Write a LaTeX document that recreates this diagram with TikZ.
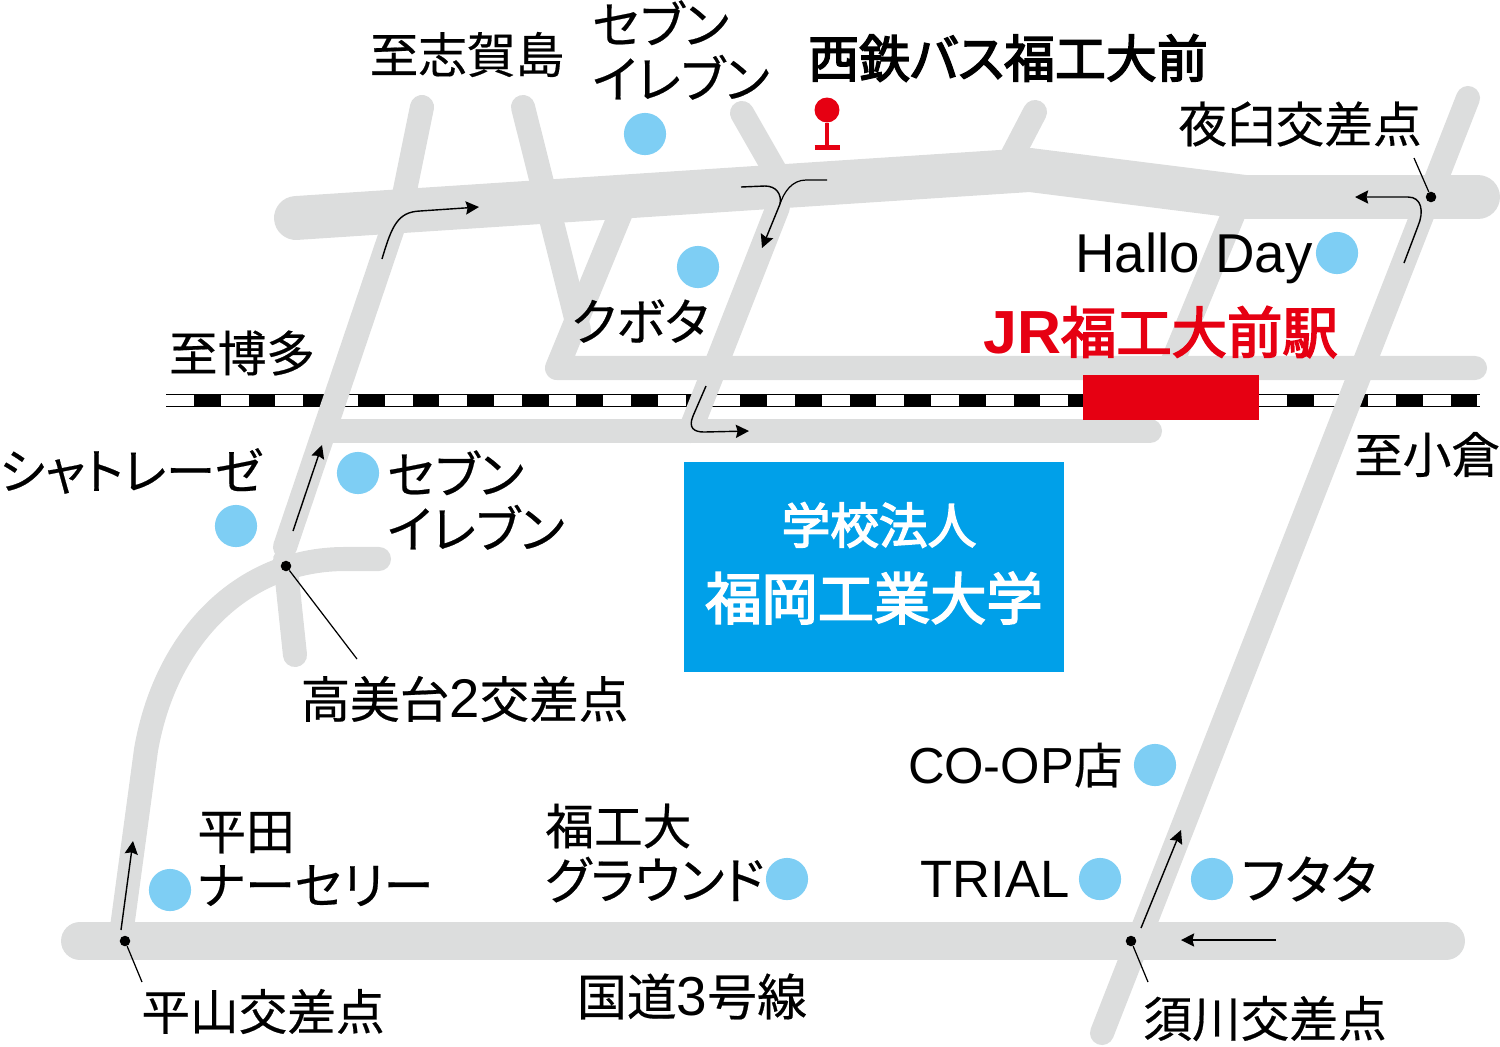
\documentclass[tikz,border=0pt]{standalone}
\usepackage{fontspec}
\setmainfont{Noto Sans CJK JP}[RawFeature=+palt,FakeBold=0.4]
\newfontfamily\heavy{Noto Sans CJK JP}[RawFeature=+palt,FakeBold=3]
\newfontfamily\lat{Liberation Sans}[Scale=1.1]
\usetikzlibrary{arrows.meta}
\definecolor{roadgray}{HTML}{DCDDDD}
\definecolor{shopblue}{HTML}{7ECEF4}
\definecolor{boxblue}{HTML}{00A0E9}
\definecolor{jrred}{HTML}{E60012}
\tikzset{
  bigroad/.style={draw=roadgray,line width=25pt,line cap=round,line join=round},
  midroad/.style={draw=roadgray,line width=21.6pt,line cap=round},
  road/.style={draw=roadgray,line width=13.7pt,line cap=round,line join=round},
  shop/.style={circle,fill=shopblue,minimum size=24pt,inner sep=0pt},
  cross/.style={circle,fill=black,minimum size=6pt,inner sep=0pt},
  maptext/.style={inner sep=0pt,align=left,font=\fontsize{27.7}{31}\selectfont},
  kanatext/.style={inner sep=0pt,align=left,font=\fontsize{28.6}{31}\selectfont},
  route/.style={draw=black,line width=0.8pt,-{Stealth[length=7.5pt,width=7.5pt,inset=1pt]}},
  leader/.style={draw=black,line width=0.7pt}
}
\begin{document}
\begin{tikzpicture}[x=0.02cm,y=-0.02cm]
    \useasboundingbox (0,0) rectangle (1500,1046);

    % railway
    \draw[line width=0.6pt] (166,394.5) -- (1480,394.5);
    \draw[line width=0.6pt] (166,406.5) -- (1480,406.5);
    \draw[line width=6.6pt,dash pattern=on 15.2pt off 15.9pt] (194,400.5) -- (1480,400.5);

    % roads
    \draw[road] (422,107) -- (404,195) -- (285,547);
    \draw[road] (285,560) -- (295,655);
    \draw[road] (379,559) -- (345,559) .. controls (240,559) and (165,640) .. (146,750) -- (121,935);
    \draw[road] (523,107) -- (579,330);
    \draw[road] (622,210) -- (557,368) -- (1475,368);
    \draw[road] (742,113) -- (778,176);
    \draw[road] (1035,112) -- (1010,160);
    \draw[road] (778,207) -- (690,431);
    \draw[road] (1233,215) -- (1165,380);
    \draw[road] (1468,98) -- (1102,1033);
    \draw[road] (330,431) -- (1150,431);
    \draw[bigroad] (296,218) -- (1030,170) -- (1245,197) -- (1478,197);
    \draw[midroad] (80,941) -- (1446,941);

    % station, campus, bus stop
    \fill[jrred] (1083,375) rectangle (1259,420);
    \node (campus) at (874,567) [fill=boxblue,minimum width=7.6cm,minimum height=4.2cm] {};
    \node (busstop) at (827,110) [circle,fill=jrred,minimum size=14.2pt,inner sep=0pt] {};
    \coordinate (busfoot) at (827,147);
    \draw[jrred,line width=2pt] (busstop) -- (busfoot);
    \draw[jrred,line width=2.4pt] (814.5,147.5) -- (840,147.5);

    % shops
    \node (seven1) at (645,134) [shop] {};
    \node (kubota) at (698,267) [shop] {};
    \node (hallo) at (1337,253) [shop] {};
    \node (seven2) at (358,473) [shop] {};
    \node (chateau) at (236,526) [shop] {};
    \node (coop) at (1155,765) [shop] {};
    \node (ground) at (787,879) [shop] {};
    \node (trial) at (1100,879) [shop] {};
    \node (futata) at (1212,879) [shop] {};
    \node (nursery) at (170,890) [shop] {};

    % crossings
    \node (yausu) at (1431,197) [cross] {};
    \node (takami) at (286,566) [cross] {};
    \node (hirayama) at (125,941) [cross] {};
    \node (sugawa) at (1131,941) [cross] {};
    \coordinate (yausuend) at (1414,158);
    \coordinate (takamiend) at (357,659);
    \coordinate (hirayamaend) at (142,982);
    \coordinate (sugawaend) at (1148,982);
    \draw[leader] (yausu) -- (yausuend);
    \draw[leader] (takami) -- (takamiend);
    \draw[leader] (hirayama) -- (hirayamaend);
    \draw[leader] (sugawa) -- (sugawaend);

    % route arrows
    \draw[route] (382,259) .. controls (392,225) and (398,212) .. (420,211) -- (479,207);
    \draw[route] (741,187) -- (765,186) .. controls (776,186) and (782,194) .. (780,204) -- (762,248);
    \draw[leader] (827,180) -- (806,180) .. controls (792,180) and (784,192) .. (780,204);
    \draw[route] (706,386) -- (693,416) .. controls (688,428) and (694,432) .. (704,432) -- (749,431);
    \draw[route] (1404,263) -- (1418,226) .. controls (1424,212) and (1422,197) .. (1408,197) -- (1355,197);
    \draw[route] (293,531) -- (322,445);
    \draw[route] (121,930) -- (133,841);
    \draw[route] (1141,928) -- (1181,830);
    \draw[route] (1276,940) -- (1181,940);

    % labels
    \node (shika) at (467,54.5) [maptext] {至志賀島};
    \node (sevenA) at (592,50) [kanatext,anchor=west] {セブン\\イレブン};
    \node (nishitetsu) at (1008,58) [maptext,font=\fontsize{29}{31}\selectfont\heavy] {西鉄バス福工大前};
    \node (yausutxt) at (1300,124) [maptext] {夜臼交差点};
    \node (hallotxt) at (1075,258) [maptext,anchor=west,font=\fontsize{28.3}{31}\selectfont] {\lat Hallo Day};
    \node (kubotatxt) at (640,321) [kanatext] {クボタ};
    \node (jr) at (1160.5,332) [maptext,font=\fontsize{31.5}{34}\selectfont\heavy,text=jrred] {{\lat\bfseries JR}福工大前駅};
    \node (hakata) at (242,353) [maptext] {至博多};
    \node (chateautxt) at (131,471) [maptext,font=\fontsize{28}{31}\selectfont] {シャトレーゼ};
    \node (sevenB) at (387,500) [kanatext,anchor=west] {セブン\\イレブン};
    \node (kokura) at (1427,454.5) [maptext] {至小倉};
    \node (gakko) at (879,525) [maptext,font=\fontsize{27.7}{31}\selectfont\heavy,text=white] {学校法人};
    \node (fit) at (874,598) [maptext,font=\fontsize{32}{34}\selectfont\heavy,text=white] {福岡工業大学};
    \node (takamitxt) at (464.5,699) [maptext,font=\fontsize{28.2}{31}\selectfont] {高美台{\lat 2}交差点};
    \node (cooptxt) at (1123,765) [maptext,anchor=east,font=\fontsize{26.2}{31}\selectfont] {{\lat CO-OP}{\fontsize{27.7}{31}\selectfont 店}};
    \node (nurserytxt) at (197,859) [kanatext,anchor=west] {{\fontsize{27.7}{31}\selectfont 平田}\\ナーセリー};
    \node (groundtxt) at (545,853) [kanatext,anchor=west] {{\fontsize{27.7}{31}\selectfont 福工大}\\グラウンド};
    \node (trialtxt) at (1070,879) [maptext,anchor=east,font=\fontsize{27.2}{31}\selectfont] {\lat TRIAL};
    \node (futatatxt) at (1309,879) [maptext,font=\fontsize{29.8}{31}\selectfont] {フタタ};
    \node (hirayamatxt) at (263,1011.5) [maptext] {平山交差点};
    \node (route3) at (692,996.5) [maptext,font=\fontsize{28.4}{31}\selectfont] {国道{\lat 3}号線};
    \node (sugawatxt) at (1265,1018.5) [maptext] {須川交差点};
\end{tikzpicture}
\end{document}
